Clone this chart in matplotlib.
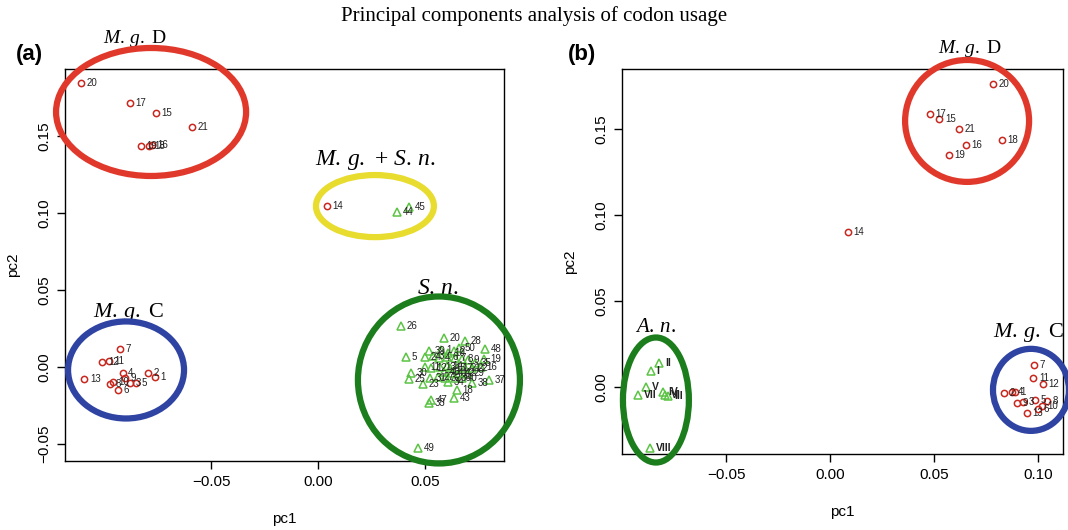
import matplotlib
matplotlib.use("Agg")
import matplotlib.pyplot as plt
from matplotlib.patches import Ellipse

plt.rcParams["font.family"] = ["Liberation Sans", "DejaVu Sans"]
plt.rcParams["mathtext.fontset"] = "custom"
plt.rcParams["mathtext.rm"] = "Liberation Serif"
plt.rcParams["mathtext.it"] = "Liberation Serif:italic"

# ---- panel (a): M. genitalium-like genes (circles) ----
a_mg_labels = ["20", "17", "15", "21", "19", "18", "16", "14",
               "7", "12", "11", "13", "4", "2", "1", "6", "8", "10", "9", "3", "5"]
a_mg_x = [-0.1107, -0.0879, -0.0758, -0.0589, -0.0827, -0.0790, -0.0776, 0.0040,
          -0.0925, -0.1008, -0.0977, -0.1092, -0.0913, -0.0793, -0.0763, -0.0936,
          -0.0972, -0.0959, -0.0902, -0.0879, -0.0850]
a_mg_y = [0.1844, 0.1716, 0.1647, 0.1556, 0.1435, 0.1435, 0.1440, 0.1048,
          0.0117, 0.0030, 0.0039, -0.0076, -0.0041, -0.0039, -0.0067, -0.0149,
          -0.0110, -0.0099, -0.0069, -0.0106, -0.0102]

# ---- panel (a): S. n. genes (triangles) ----
a_sn_labels = ["44", "45", "1", "2", "3", "4", "6", "7", "8", "9", "11", "12", "13",
               "14", "15", "17", "21", "22", "27", "31", "32", "34", "36", "40",
               "41", "42", "46", "5", "10", "16", "18", "19", "20", "23", "24",
               "25", "26", "28", "29", "30", "33", "35", "37", "38", "39", "43",
               "47", "48", "49", "50"]
a_sn_x = [0.0368, 0.0427, 0.0575, 0.0637, 0.0539, 0.0565, 0.0601, 0.0640, 0.0671,
          0.0702, 0.0500, 0.0528, 0.0570, 0.0601, 0.0617, 0.0648, 0.0687, 0.0718,
          0.0562, 0.0523, 0.0593, 0.0609, 0.0640, 0.0671, 0.0626, 0.0659, 0.0589,
          0.0411, 0.0609, 0.0762, 0.0648, 0.0777, 0.0589, 0.0492, 0.0500, 0.0424,
          0.0388, 0.0687, 0.0703, 0.0433, 0.0519, 0.0734, 0.0800, 0.0718, 0.0520,
          0.0636, 0.0528, 0.0780, 0.0469, 0.0660]
a_sn_y = [0.1009, 0.1041, 0.0110, 0.0104, 0.0073, 0.0056, 0.0067, 0.0056, 0.0052,
          0.0045, 0.0002, -0.0008, 0.0002, 0.0008, -0.0008, -0.0008, -0.0008,
          -0.0008, -0.0063, -0.0074, -0.0074, -0.0095, -0.0074, -0.0074, -0.0039,
          -0.0039, -0.0032, 0.0067, 0.0093, -0.0002, -0.0149, 0.0050, 0.0190,
          -0.0110, 0.0067, -0.0078, 0.0266, 0.0169, -0.0037, -0.0037, -0.0236,
          0.0024, -0.0084, -0.0106, 0.0104, -0.0203, -0.0214, 0.0117, -0.0524,
          0.0125]

# ---- panel (b): M. g. genes (circles) ----
b_mg_labels = ["20", "17", "15", "21", "16", "18", "19", "14",
               "7", "11", "12", "2", "4", "1", "9", "3", "5", "8", "10", "6", "13"]
b_mg_x = [0.0782, 0.0481, 0.0526, 0.0622, 0.0652, 0.0828, 0.0571, 0.0087,
          0.0981, 0.0978, 0.1023, 0.0838, 0.0877, 0.0889, 0.0899, 0.0930,
          0.0986, 0.1042, 0.1019, 0.0999, 0.0947]
b_mg_y = [0.1762, 0.1589, 0.1560, 0.1498, 0.1405, 0.1434, 0.1347, 0.0901,
          0.0126, 0.0052, 0.0016, -0.0037, -0.0032, -0.0029, -0.0091, -0.0085,
          -0.0076, -0.0081, -0.0108, -0.0128, -0.0154]

# ---- panel (b): A. n. genes (triangles) ----
b_an_labels = ["II", "I", "V", "VII", "IV", "VI", "III", "VIII"]
b_an_x = [-0.0821, -0.0861, -0.0885, -0.0922, -0.0804, -0.0793, -0.0777, -0.0865]
b_an_y = [0.0141, 0.0093, 0.0002, -0.0047, -0.0027, -0.0047, -0.0052, -0.0353]

red_pt = "#c8281e"
green_pt = "#5cc445"

fig = plt.figure(figsize=(10.68, 5.30), dpi=100)
ax1 = fig.add_axes([0.0609, 0.1302, 0.4110, 0.7396])
ax2 = fig.add_axes([0.5824, 0.1434, 0.4129, 0.7264])


def style_axes(ax):
    for s in ax.spines.values():
        s.set_linewidth(1.0)
    ax.tick_params(direction="out", length=6, width=1.0, labelsize=11, pad=4)
    for lab in ax.get_yticklabels():
        lab.set_rotation(90)
        lab.set_va("center")
    ax.set_xlabel("pc1", fontsize=11, labelpad=17)
    ax.set_ylabel("pc2", fontsize=11, labelpad=12)


def draw_points(ax, xs, ys, labels, marker, color, size, fs=7, bold=False):
    ax.plot(xs, ys, linestyle="none", marker=marker, markersize=size,
            markerfacecolor="none", markeredgecolor=color, markeredgewidth=1.1,
            clip_on=False)
    for x, y, t in zip(xs, ys, labels):
        ax.annotate(t, (x, y), xytext=(4, 0), textcoords="offset points",
                    ha="left", va="center", fontsize=fs, color="#222222",
                    fontweight="bold" if bold else "normal")


def ring(ax, cx, cy, w, h, color):
    ax.add_patch(Ellipse((cx, cy), w, h, fill=False, edgecolor=color,
                         linewidth=4.5, clip_on=False, zorder=5))


def tag(ax, x, y, s, fs):
    ax.text(x, y, s, fontsize=fs, family="Liberation Serif",
            ha="center", va="center", clip_on=False)


mg_d = r"$\mathit{M.\,g.}$ D"
mg_c = r"$\mathit{M.\,g.}$ C"

# panel (a)
ax1.set_xlim(-0.1182, 0.0869)
ax1.set_ylim(-0.061, 0.1935)
ax1.set_xticks([-0.05, 0.00, 0.05])
ax1.set_yticks([-0.05, 0.00, 0.05, 0.10, 0.15])
ax1.set_xticklabels(["\u22120.05", "0.00", "0.05"])
ax1.set_yticklabels(["\u22120.05", "0.00", "0.05", "0.10", "0.15"])
style_axes(ax1)
draw_points(ax1, a_sn_x, a_sn_y, a_sn_labels, "^", green_pt, 6)
draw_points(ax1, a_mg_x, a_mg_y, a_mg_labels, "o", red_pt, 4.5)
ring(ax1, -0.0780, 0.1656, 0.0888, 0.0831, "#e0392b")
ring(ax1, 0.0266, 0.1045, 0.0551, 0.0403, "#e8dc2e")
ring(ax1, -0.0897, -0.0019, 0.0542, 0.0630, "#2f43a3")
ring(ax1, 0.0565, -0.0084, 0.0757, 0.1084, "#1b7d1b")
tag(ax1, -0.0855, 0.2136, mg_d, 14)
tag(ax1, 0.0266, 0.1344, r"$\mathit{M.\,g.}$ + $\mathit{S.\,n.}$", 17)
tag(ax1, 0.0561, 0.0513, r"$\mathit{S.\,n.}$", 17)
tag(ax1, -0.0883, 0.0357, mg_c, 16)

# panel (b)
ax2.set_xlim(-0.100, 0.112)
ax2.set_ylim(-0.039, 0.1849)
ax2.set_xticks([-0.05, 0.00, 0.05, 0.10])
ax2.set_yticks([0.00, 0.05, 0.10, 0.15])
ax2.set_xticklabels(["\u22120.05", "0.00", "0.05", "0.10"])
ax2.set_yticklabels(["0.00", "0.05", "0.10", "0.15"])
style_axes(ax2)
draw_points(ax2, b_an_x, b_an_y, b_an_labels, "^", green_pt, 6, fs=7.5, bold=True)
draw_points(ax2, b_mg_x, b_mg_y, b_mg_labels, "o", red_pt, 4.5)
ring(ax2, 0.0659, 0.1547, 0.0596, 0.0709, "#e0392b")
ring(ax2, 0.0966, -0.0017, 0.0365, 0.0477, "#2f43a3")
ring(ax2, -0.0837, -0.0076, 0.0317, 0.0727, "#1b7d1b")
tag(ax2, 0.0673, 0.1971, mg_d, 14)
tag(ax2, -0.0837, 0.0343, r"$\mathit{A.\,n.}$", 15)
tag(ax2, 0.0957, 0.0314, mg_c, 16)

fig.text(0.5, 0.970, "Principal components analysis of codon usage",
         family="Liberation Serif", fontsize=15, ha="center", va="center")
fig.text(0.028, 0.897, "(a)", fontsize=16, fontweight="bold", ha="center", va="center")
fig.text(0.545, 0.897, "(b)", fontsize=16, fontweight="bold", ha="center", va="center")

fig.savefig("out.png", dpi=100)
